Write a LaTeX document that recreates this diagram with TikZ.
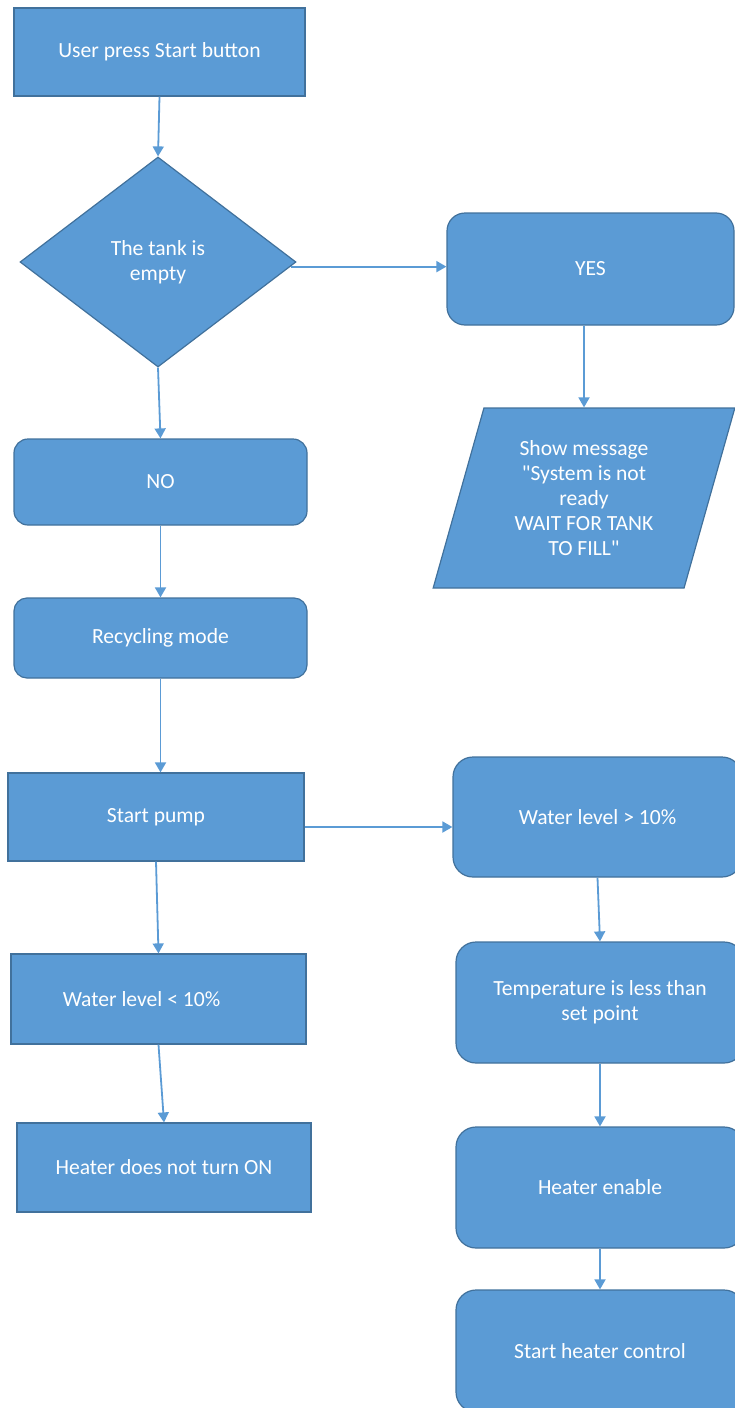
\documentclass[tikz,border=0pt]{standalone}
\usepackage{fontspec}
\setmainfont{Carlito}
\usetikzlibrary{shapes.geometric,arrows.meta}
\definecolor{boxfill}{HTML}{5B9BD5}
\definecolor{boxline}{HTML}{41719C}
\definecolor{flowline}{HTML}{5B9BD5}
\tikzset{
  base/.style={draw=boxline, fill=boxfill, line width=1.2pt, text=white,
    font=\fontsize{21.6}{25}\selectfont, align=center, inner sep=4pt},
  squarebox/.style={base, rectangle},
  roundbox/.style={base, rectangle, rounded corners=#1},
  roundbox/.default=16pt,
  decision/.style={base, diamond, inner sep=0pt},
  iobox/.style={base, trapezium, trapezium left angle=73, trapezium right angle=107,
    trapezium stretches=true, inner sep=0pt},
  flow/.style={draw=flowline, line width=1.8pt, -{Triangle[width=11pt,length=10pt]}}
}
\begin{document}
\begin{tikzpicture}[x=1pt, y=-1pt]
\useasboundingbox (0,0) rectangle (735,1408);

% left column
\node[squarebox, minimum width=291pt, minimum height=88pt] (start) at (159.5,52) {User press Start button};
\node[decision, minimum width=276pt, minimum height=210pt] (tank) at (158,262) {The tank is\\empty};
\node[roundbox=14pt, minimum width=293pt, minimum height=86pt] (no) at (160.5,482) {NO};
\node[roundbox=13pt, minimum width=293pt, minimum height=80pt] (recyc) at (160.5,638) {Recycling mode};
\node[squarebox, minimum width=296pt, minimum height=88pt] (pump) at (156,817) {Start pump};
\node[squarebox, minimum width=295pt, minimum height=90pt] (wlt) at (158.5,999) {Water level < 10\%\hspace*{34pt}};
\node[squarebox, minimum width=294pt, minimum height=89pt] (hdn) at (164,1167.5) {Heater does not turn ON};

% right column
\node[roundbox=18pt, minimum width=287pt, minimum height=112pt] (yes) at (590.5,269) {YES};
\node[iobox, minimum width=302pt, minimum height=180pt] (msg) at (584,498)
  {Show message\\\textquotedbl System is not\\ready\\WAIT FOR TANK\\TO FILL\textquotedbl};
\node[roundbox=20pt, minimum width=289pt, minimum height=120pt] (wgt) at (597.5,817) {Water level > 10\%};
\node[roundbox=20pt, minimum width=288pt, minimum height=121pt] (temp) at (600,1002.5) {Temperature is less than\\set point};
\node[roundbox=20pt, minimum width=288pt, minimum height=121pt] (heaten) at (600,1187.5) {Heater enable};
\node[roundbox=20pt, minimum width=288pt, minimum height=122pt] (shc) at (600,1351) {Start heater control};

% connectors
\draw[flow] (start.south) -- (tank.north);
\draw[flow] (tank.-2.6) -- (tank.-2.6 -| yes.west);
\draw[flow] (yes.south -| msg.north) -- (msg.north);
\draw[flow] (tank.south) -- (no.north);
\draw[flow] (no.south) -- (recyc.north);
\draw[flow] (recyc.south) -- (recyc.south |- pump.north);
\draw[flow] ([yshift=-10pt]pump.east) -- ([yshift=-10pt]pump.east -| wgt.west);
\draw[flow] (wgt.south) -- (temp.north);
\draw[flow] (temp.south) -- (heaten.north);
\draw[flow] (heaten.south) -- (shc.north);
\draw[flow] (pump.south) -- (wlt.north);
\draw[flow] (wlt.south) -- (hdn.north);
\end{tikzpicture}
\end{document}
